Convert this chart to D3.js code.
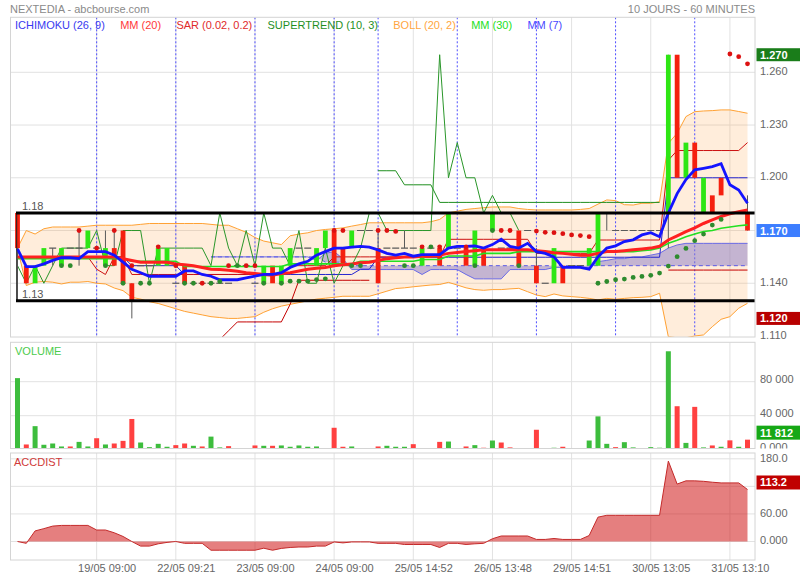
<!DOCTYPE html>
<html><head><meta charset="utf-8">
<script src="https://cdn.jsdelivr.net/npm/d3@7"></script>
<style>body{margin:0;background:#fff}svg{display:block}text{font-family:"Liberation Sans",Arial,sans-serif}</style>
</head><body><svg id="c" width="800" height="580"></svg>
<script>
// ---------------- DATA ----------------
const opens  = [1.18,1.15,1.14,1.15,1.16,1.15,1.16,1.16,1.16,1.16, 1.15,1.16,1.17,1.14,1.15,1.15,1.15,1.15,1.14,1.15, 1.14,1.14,1.14,1.14,1.14,1.15,1.15,1.14,1.14,1.15, 1.14,1.15,1.16,1.16,1.15,1.16,1.17,1.16,1.16,1.17, 1.17,1.16,1.16,1.16,1.16,1.16,1.15,1.16,1.16,1.16, 1.16,1.16,1.15,1.16,1.17,1.16,1.16,1.17,1.17,1.15, 1.14,1.14,1.15,1.15,1.15,1.15,1.15,1.18,1.17,1.17, 1.17,1.17,1.17,1.17,1.18,1.27,1.20,1.22,1.18,1.19, 1.20,1.18,1.18,1.18];
const highs  = [1.18,1.15,1.15,1.16,1.16,1.16,1.16,1.17,1.17,1.16, 1.17,1.17,1.17,1.14,1.15,1.15,1.16,1.16,1.14,1.15, 1.14,1.14,1.14,1.14,1.14,1.15,1.15,1.14,1.15,1.15, 1.15,1.16,1.16,1.16,1.16,1.17,1.17,1.16,1.17,1.17, 1.17,1.17,1.16,1.16,1.17,1.16,1.16,1.16,1.16,1.18, 1.16,1.16,1.17,1.16,1.18,1.16,1.16,1.17,1.17,1.16, 1.14,1.16,1.15,1.15,1.15,1.16,1.18,1.18,1.17,1.17, 1.17,1.17,1.17,1.17,1.27,1.27,1.22,1.22,1.20,1.19, 1.20,1.18,1.18,1.19];
const lows   = [1.13,1.14,1.14,1.15,1.15,1.15,1.16,1.15,1.16,1.16, 1.15,1.15,1.14,1.12,1.15,1.15,1.15,1.15,1.14,1.14, 1.14,1.14,1.14,1.14,1.14,1.15,1.15,1.14,1.14,1.14, 1.14,1.15,1.16,1.16,1.15,1.16,1.15,1.15,1.16,1.17, 1.17,1.14,1.16,1.16,1.16,1.16,1.15,1.16,1.15,1.16, 1.16,1.15,1.15,1.15,1.17,1.16,1.16,1.15,1.17,1.14, 1.14,1.14,1.14,1.15,1.15,1.15,1.15,1.17,1.17,1.17, 1.17,1.17,1.17,1.17,1.16,1.20,1.20,1.20,1.18,1.18, 1.19,1.18,1.18,1.17];
const closes = [1.16,1.14,1.15,1.16,1.16,1.16,1.16,1.16,1.17,1.16, 1.16,1.15,1.14,1.13,1.15,1.15,1.16,1.16,1.14,1.14, 1.14,1.14,1.14,1.14,1.14,1.15,1.15,1.14,1.15,1.14, 1.15,1.16,1.16,1.16,1.16,1.17,1.15,1.15,1.17,1.17, 1.17,1.14,1.16,1.16,1.16,1.16,1.16,1.16,1.15,1.18, 1.16,1.15,1.17,1.15,1.18,1.16,1.16,1.15,1.17,1.14, 1.14,1.16,1.14,1.15,1.15,1.16,1.18,1.18,1.17,1.17, 1.17,1.17,1.17,1.17,1.27,1.20,1.22,1.20,1.20,1.18, 1.19,1.18,1.18,1.17];

const volumes = [84200,6150,27700,5800,7300,3800,3800,9200,3800,13500, 6150,7300,10400,36150,8460,3000,6900,3450,5380,7300, 4600,3800,15400,2700,4200,1500,1500,5000,4600,4600, 5000,3450,5000,3450,3800,500,25800,3450,3800,0, 0,3800,4600,3450,3450,6500,1500,1500,9200,9600, 1500,3800,5380,2300,10800,8460,2700,1500,1500,23460, 0,2300,3450,1500,1500,10800,39200,6900,3000,8850, 2700,1500,3000,2300,115800,51150,8000,50400,2700,5000, 3450,11000,3450,11812];
const volumeDir = [1,-1,1,1,1,1,-1,1,1,-1, 1,-1,-1,-1,1,1,1,1,-1,-1, 1,-1,1,1,-1,0,0,-1,1,-1, 1,1,1,1,1,1,-1,-1,1,1, 1,-1,1,1,1,-1,0,0,-1,1, 0,-1,1,-1,1,-1,-1,0,0,-1, 1,1,-1,1,1,1,1,1,-1,1, 1,0,1,1,1,-1,1,-1,1,-1, 1,-1,1,-1];

const accdist = [0,-4,23,28,33.5,35,35,35,35,25, 25,19,11,0,-10,-10,-5,-2,0,-4, -4,-4,-19,-19,-19,-19,-19,-19,-14.6,-19, -15,-13,-12,-12,-10,-10,-1,-3,-1,-1, -1,-4,-4,-4,-6.5,-6.5,-6.5,-6.5,-13,-4, -4,-6.5,-5,-4,6,12,12,12,12,4.5, 4.5,6.5,4.5,4.5,4.5,13,53,57,57,57, 57,57,57,57,175,125,132,132,131,129, 127.5,127.5,127.5,113.2];

const mm7 = [1.1595,1.1495,1.1495,1.151,1.153,1.1545,1.1545,1.154,1.158,1.158, 1.158,1.156,1.152,1.148,1.146,1.144,1.144,1.144,1.144,1.147, 1.147,1.145,1.144,1.142,1.142,1.142,1.143,1.144,1.145,1.145, 1.146,1.149,1.151,1.1525,1.156,1.158,1.160,1.160,1.1605,1.161, 1.1605,1.159,1.157,1.156,1.157,1.1554,1.1563,1.1563,1.1563,1.160, 1.161,1.161,1.1612,1.160,1.162,1.165,1.161,1.160,1.1627,1.158, 1.157,1.155,1.149,1.149,1.149,1.148,1.155,1.160,1.1613,1.1637, 1.1647,1.1675,1.1688,1.1665,1.180,1.191,1.199,1.2045,1.2054,1.2064, 1.208,1.196,1.193,1.1855];
const mm20 = [1.155,1.155,1.155,1.155,1.155,1.155,1.155,1.155,1.155,1.155, 1.155,1.155,1.154,1.153,1.152,1.152,1.152,1.152,1.151,1.1505, 1.150,1.149,1.148,1.1478,1.1474,1.1468,1.146,1.1455,1.145,1.1446, 1.1455,1.146,1.147,1.148,1.1485,1.149,1.150,1.1505,1.151,1.1516, 1.152,1.153,1.154,1.1545,1.155,1.155,1.1553,1.1554,1.156,1.157, 1.1575,1.158,1.1585,1.159,1.159,1.159,1.159,1.159,1.159,1.1585, 1.158,1.1574,1.157,1.1565,1.156,1.156,1.157,1.158,1.158,1.1585, 1.159,1.1595,1.160,1.161,1.1646,1.167,1.1694,1.1715,1.174,1.176, 1.178,1.1795,1.1807,1.1817];
const mm30 = [1.154,1.154,1.154,1.154,1.154,1.154,1.154,1.154,1.154,1.154, 1.154,1.154,1.154,1.1525,1.1525,1.1525,1.1525,1.1525,1.1525,1.1495, 1.1495,1.1495,1.1495,1.1495,1.1495,1.1495,1.1495,1.1495,1.1495,1.1495, 1.1495,1.151,1.151,1.151,1.151,1.151,1.151,1.151,1.151,1.1525, 1.1525,1.1525,1.1525,1.1525,1.1525,1.1525,1.1535,1.1535,1.1535,1.1555, 1.1555,1.1555,1.1555,1.157,1.157,1.157,1.157,1.158,1.158,1.158, 1.158,1.158,1.158,1.158,1.158,1.158,1.158,1.158,1.158,1.158, 1.158,1.1585,1.159,1.160,1.1627,1.1645,1.1665,1.168,1.1694,1.170, 1.1713,1.172,1.1727,1.1732];
const bollUpper = [1.160,1.170,1.168,1.171,1.172,1.172,1.172,1.172,1.1725,1.173, 1.173,1.173,1.173,1.173,1.1735,1.174,1.174,1.174,1.174,1.174, 1.174,1.174,1.1735,1.173,1.173,1.171,1.169,1.166,1.164,1.163, 1.162,1.167,1.168,1.1687,1.170,1.1706,1.171,1.1715,1.1725,1.1734, 1.1744,1.1744,1.1744,1.1744,1.1744,1.1744,1.1744,1.175,1.1763,1.180, 1.181,1.182,1.1825,1.183,1.1834,1.1834,1.1834,1.1825,1.182,1.1817, 1.1817,1.1817,1.1817,1.1817,1.182,1.1825,1.185,1.1874,1.187,1.1847, 1.1845,1.1855,1.1855,1.1864,1.2196,1.2253,1.2348,1.2376,1.238,1.2382, 1.2386,1.2386,1.2377,1.2367];
const bollLower = [1.160,1.1387,1.1406,1.141,1.1406,1.1396,1.1406,1.1406,1.141,1.140, 1.1396,1.1373,1.1358,1.132,1.131,1.1295,1.1285,1.127,1.1255,1.124, 1.123,1.122,1.121,1.1205,1.120,1.120,1.1205,1.121,1.1235,1.1255, 1.127,1.128,1.129,1.130,1.131,1.1315,1.132,1.1326,1.1326,1.1326, 1.1326,1.134,1.1355,1.137,1.1374,1.138,1.1385,1.139,1.1393,1.1405, 1.139,1.1374,1.1364,1.136,1.1364,1.1364,1.1368,1.1371,1.1352,1.1333, 1.1324,1.1339,1.1328,1.1324,1.132,1.1314,1.1305,1.1314,1.1309,1.1314, 1.1318,1.132,1.1324,1.1343,1.1096,1.109,1.109,1.110,1.1106,1.1153, 1.1195,1.121,1.1258,1.1286];
const tenkan = [1.155,1.155,1.155,1.155,1.155,1.155,1.155,1.155,1.155,1.148, 1.145,1.155,1.155,1.145,1.145,1.145,1.145,1.145,1.145,1.145, 1.145,1.145,1.145,1.145,1.145,1.145,1.145,1.145,1.145,1.145, 1.145,1.150,1.150,1.150,1.150,1.150,1.155,1.155,1.155,1.155, 1.155,1.155,1.155,1.155,1.155,1.155,1.155,1.155,1.155,1.165, 1.165,1.165,1.165,1.165,1.165,1.165,1.165,1.165,1.165,1.157, 1.157,1.157,1.157,1.157,1.157,1.157,1.1646,1.1646,1.1646,1.1646, 1.1646,1.1646,1.1646,1.1646,1.210,1.2155,1.2155,1.2155,1.2155,1.2155, 1.2155,1.2155,1.2155,1.220];
const kijun = [1.155,1.155,1.155,1.155,1.155,1.155,1.155,1.155,1.155,1.155, 1.155,1.155,1.155,1.150,1.150,1.150,1.150,1.150,1.150,1.145, 1.145,1.145,1.145,1.145,1.145,1.145,1.145,1.145,1.145,1.145, 1.145,1.145,1.145,1.145,1.145,1.145,1.145,1.145,1.145,1.148, 1.148,1.1548,1.1548,1.1548,1.1548,1.1548,1.1548,1.1548,1.1548,1.1548, 1.1548,1.1548,1.1548,1.1548,1.1548,1.1548,1.1548,1.1548,1.1548,1.1548, 1.1548,1.1548,1.1548,1.1548,1.1548,1.1548,1.1548,1.1548,1.1548,1.1548, 1.1548,1.1548,1.1548,1.1548,1.200,1.200,1.200,1.200,1.200,1.200, 1.200,1.200,1.200,1.200];
const senkouA = [null,null,null,null,null,null,null,null,null,null, null,null,null,null,null,null,null,null,null,null, null,null,1.155,1.155,1.155,1.155,1.155,1.155,1.155,1.155, 1.155,1.155,1.155,1.155,1.153,1.157,1.158,1.154,1.1478,1.1478, 1.1478,1.1478,1.1478,1.1478,1.1478,1.1478,1.145,1.1478,1.1478,1.1478, 1.1478,1.145,1.1425,1.1425,1.1425,1.1425,1.1478,1.1478,1.1478,1.1478, 1.1478,1.149,1.149,1.149,1.149,1.149,1.1523,1.153,1.154,1.154, 1.155,1.155,1.156,1.157,1.160,1.1618,1.1627,1.1627,1.1627,1.1627, 1.1627,1.1627,1.1627,1.1627];
const senkouB = [null,null,null,null,null,null,null,null,null,null, null,null,null,null,null,null,null,null,null,null, null,null,1.155,1.155,1.155,1.155,1.155,1.155,1.155,1.155, 1.155,1.155,1.155,1.155,1.155,1.152,1.152,1.152,1.150,1.150, 1.150,1.150,1.150,1.150,1.150,1.150,1.150,1.150,1.150,1.150, 1.150,1.150,1.150,1.150,1.150,1.150,1.150,1.150,1.150,1.150, 1.150,1.150,1.150,1.150,1.150,1.150,1.150,1.150,1.150,1.150, 1.150,1.150,1.150,1.150,1.150,1.150,1.150,1.150,1.150,1.150, 1.150,1.150,1.150,1.150];
const chikou = [1.15,1.14,1.15,1.14,1.15,1.16,1.16,1.16,1.16,1.17, 1.15,1.15,1.17,1.17,1.17,1.14,1.16,1.16,1.16,1.16, 1.16,1.16,1.15,1.18,1.16,1.15,1.17,1.15,1.18,1.16, 1.16,1.15,1.17,1.14,1.14,1.16,1.14,1.15,1.15,1.16, 1.18,1.18,1.17,1.17,1.17,1.17,1.17,1.17,1.27,1.20, 1.22,1.20,1.20,1.18,1.19,1.18,1.18,1.17];
const supertrendUp = [null,null,null,null,null,null,null,null,null,null, null,null,null,null,null,null,null,null,null,null, null,null,null,1.108,1.113,1.118,1.118,1.118,1.118,1.118, 1.118,1.128,1.1417,1.1417,1.1417,1.1417,1.1417,1.1417,1.1417,1.1417, 1.1417,null,null,null,null,null,null,null,null,null, null,null,null,null,null,null,null,null,null,null, null,null,null,null,null,null,null,null,null,null, null,null,null,null,1.1475,1.1475,1.1475,1.1475,1.1475,1.1475, 1.1475,1.1475,1.1475,1.1475];
const supertrendDown = [null,null,null,null,null,null,null,null,null,null, null,null,null,null,null,null,null,null,null,null, null,null,null,null,null,null,null,null,null,null, null,null,null,null,null,null,null,null,null,null, null,1.204,1.204,1.204,1.196,1.196,1.196,1.196,1.186,1.186, 1.186,1.186,1.186,1.186,1.186,1.186,1.186,1.186,1.186,1.186, 1.186,1.186,1.186,1.186,1.186,1.186,1.186,1.186,1.186,1.186, 1.186,1.186,1.186,1.186,null,null,null,null,null,null, null,null,null,null];
const sar = [null,null,null,null,null,1.15,1.15,1.17,null,1.16, 1.15,1.17,1.14,1.15,1.14,1.14,1.1607,null,1.15,1.14, 1.14,1.14,1.14,1.141,1.15,1.15,1.15,1.15,1.14,null, 1.14,1.1412,1.1412,1.1412,1.1421,1.1425,1.17,1.17,1.15,1.15, null,1.17,1.17,1.1695,1.15,1.15,1.1607,1.1607,1.1607,null, null,1.1607,1.15,null,1.17,1.17,1.17,1.15,null,1.1697, 1.169,1.1688,1.1682,1.1675,1.1671,1.1665,1.140,1.141,1.142,1.1424, 1.1433,1.1439,1.1445,1.1458,1.1498,1.1551,1.1598,1.1642,1.168,1.1731, 1.1763,1.2704,1.2689,1.2648];
const sarDir = [0,0,0,0,0,1,1,-1,0,-1, 1,-1,1,-1,1,1,-1,0,-1,1, 1,-1,1,1,-1,1,-1,-1,1,0, 1,1,1,1,1,1,-1,-1,1,1, 0,-1,-1,-1,1,1,-1,1,-1,0, 0,-1,1,0,1,-1,-1,1,0,-1, -1,-1,-1,-1,-1,-1,1,1,1,1, 1,1,1,1,1,1,1,1,1,1, 1,-1,-1,-1];

const levelLines = [1.18, 1.13];
const priceTicks = [1.11,1.14,1.17,1.20,1.23,1.26];
const volumeTicks = [0,40000,80000];
const accTicks = [0,60,120,180];
const xTickIndex = [9,18,27,36,45,54,63,72,81];
const xTickLabels = ["19/05 09:00","22/05 09:21","23/05 09:00","24/05 09:00","25/05 14:52","26/05 13:48","29/05 14:51","30/05 13:05","31/05 13:10"];
const dayStartIndex = [9,18,27,36,41,50,59,68,77];
const legendNames = ["ICHIMOKU (26, 9)","MM (20)","SAR (0.02, 0.2)","SUPERTREND (10, 3)","BOLL (20, 2)","MM (30)","MM (7)"];
const legendColors = ["#3a3af0","#ff3a3a","#e02a2a","#1f8f1f","#ffa640","#22e022","#4848ff"];

// ---------------- LAYOUT ----------------
const L = 10, R = 755;
const mainTop = 17.3, mainBot = 337;
const volTop = 342.3, volBot = 448.5;
const accTop = 453, accBot = 560;
const N = closes.length;
const idx = d3.range(N);

const svg = d3.select("#c");
const x = d3.scaleLinear().domain([0, N - 1]).range([17.5, 747.5]);
const y = d3.scaleLinear().domain([1.11, 1.26]).range([336, 72.3]);
const yv = d3.scaleLinear().domain([0, 80000]).range([449.7, 381.7]);
const ya = d3.scaleLinear().domain([0, 180]).range([541.5, 458.8]);

const GRID = "#e2e2e2", BORDER = "#d4d4d4", LABEL = "#666";

// clip paths (cvl is used inside a group translated by R, so it is in local coords)
const defs = svg.append("defs");
[["cm", L, mainTop, R - L, mainBot - mainTop], ["cv", L, volTop, R - L, volBot - volTop],
 ["ca", L, accTop, R - L, accBot - accTop], ["cvl", 0, volTop, 800 - R, volBot - volTop]].forEach(([id, xx, t, w, h]) => {
  defs.append("clipPath").attr("id", id).append("rect").attr("x", xx).attr("y", t).attr("width", w).attr("height", h);
});

// title
svg.append("text").attr("x", 10).attr("y", 13).attr("font-size", 11).attr("fill", "#8a8a8a").text("NEXTEDIA - abcbourse.com");
svg.append("text").attr("x", R).attr("y", 13).attr("text-anchor", "end").attr("font-size", 11).attr("fill", "#8a8a8a").text("10 JOURS - 60 MINUTES");

// ---------- panel grids ----------
function vgrid(t, b) {
  svg.append("g").selectAll("line").data(xTickIndex).join("line")
    .attr("x1", d => x(d)).attr("x2", d => x(d)).attr("y1", t).attr("y2", b)
    .attr("stroke", GRID).attr("stroke-width", 1);
}
function hgrid(scale, ticks, t, b) {
  svg.append("g").selectAll("line").data(ticks.filter(v => scale(v) > t + 1 && scale(v) < b - 1)).join("line")
    .attr("x1", L).attr("x2", R).attr("y1", d => scale(d)).attr("y2", d => scale(d))
    .attr("stroke", GRID).attr("stroke-width", 1);
}
vgrid(mainTop, mainBot); hgrid(y, priceTicks, mainTop, mainBot);
vgrid(volTop, volBot); hgrid(yv, volumeTicks, volTop, volBot);
vgrid(accTop, accBot); hgrid(ya, accTicks, accTop, accBot);

// ---------- MAIN PANEL ----------
const gm = svg.append("g").attr("clip-path", "url(#cm)");

// Bollinger fill
gm.append("path").datum(idx)
  .attr("d", d3.area().x(i => x(i)).y0(i => y(bollLower[i])).y1(i => y(bollUpper[i])))
  .attr("fill", "#ffa64d").attr("fill-opacity", 0.2);

// day separators
gm.append("g").selectAll("line").data(dayStartIndex).join("line")
  .attr("x1", d => x(d)).attr("x2", d => x(d)).attr("y1", mainTop).attr("y2", mainBot)
  .attr("stroke", "#4d4dff").attr("stroke-width", 1).attr("stroke-dasharray", "2,2");

// Bollinger lines
[bollUpper, bollLower].forEach(arr => {
  gm.append("path").datum(idx).attr("d", d3.line().x(i => x(i)).y(i => y(arr[i])))
    .attr("fill", "none").attr("stroke", "#ffa133").attr("stroke-width", 1);
});

// Ichimoku cloud
const cloudIdx = idx.filter(i => senkouA[i] != null);
gm.append("path").datum(cloudIdx)
  .attr("d", d3.area().x(i => x(i)).y0(i => y(senkouB[i])).y1(i => y(senkouA[i])))
  .attr("fill", "#8a7cc8").attr("fill-opacity", 0.5);
gm.append("path").datum(cloudIdx).attr("d", d3.line().x(i => x(i)).y(i => y(senkouA[i])))
  .attr("fill", "none").attr("stroke", "#6a6ae6").attr("stroke-width", 1);
gm.append("path").datum(cloudIdx).attr("d", d3.line().x(i => x(i)).y(i => y(senkouB[i])))
  .attr("fill", "none").attr("stroke", "#5a5ae6").attr("stroke-width", 1).attr("stroke-dasharray", "4,3");

function stepLine(arr, color, w) {
  gm.append("path").datum(idx)
    .attr("d", d3.line().defined(i => arr[i] != null).x(i => x(i)).y(i => y(arr[i])))
    .attr("fill", "none").attr("stroke", color).attr("stroke-width", w);
}
stepLine(kijun, "#2424d0", 1);
stepLine(tenkan, "#cc1111", 1);
stepLine(supertrendUp, "#c40000", 1);
stepLine(supertrendDown, "#1f8f1f", 1);
gm.append("path").datum(d3.range(chikou.length))
  .attr("d", d3.line().x(i => x(i)).y(i => y(chikou[i])))
  .attr("fill", "none").attr("stroke", "#2a962a").attr("stroke-width", 1);

// candles
const bw = 4.8;
const cg = gm.append("g");
idx.forEach(i => {
  const o = opens[i], c = closes[i], h = highs[i], l = lows[i];
  const cx = x(i);
  if (h > Math.max(o, c) || l < Math.min(o, c)) {
    cg.append("line").attr("x1", cx).attr("x2", cx).attr("y1", y(h)).attr("y2", y(l))
      .attr("stroke", "#5a5a5a").attr("stroke-width", 1);
  }
  if (o === c) {
    cg.append("line").attr("x1", cx - 3.5).attr("x2", cx + 3.5).attr("y1", y(c)).attr("y2", y(c))
      .attr("stroke", "#5a5a5a").attr("stroke-width", 1.2);
  } else {
    cg.append("rect").attr("x", cx - bw / 2).attr("width", bw)
      .attr("y", y(Math.max(o, c))).attr("height", Math.abs(y(o) - y(c)))
      .attr("fill", c > o ? "#2ee614" : "#f5200f");
  }
});

// moving averages
stepLine(mm30, "#22e022", 1.6);
stepLine(mm20, "#ff2020", 3);
stepLine(mm7, "#1414ff", 2.8);

// SAR
gm.append("g").selectAll("circle").data(idx.filter(i => sar[i] != null)).join("circle")
  .attr("cx", i => x(i)).attr("cy", i => y(sar[i])).attr("r", 2.4)
  .attr("fill", i => sarDir[i] > 0 ? "#2e8b2e" : "#dd1111");

// level bracket
gm.append("line").attr("x1", 16.7).attr("x2", 16.7).attr("y1", y(levelLines[0])).attr("y2", y(levelLines[1]))
  .attr("stroke", "#222").attr("stroke-width", 1);
levelLines.forEach(v => {
  gm.append("line").attr("x1", 16).attr("x2", R).attr("y1", y(v)).attr("y2", y(v))
    .attr("stroke", "#000").attr("stroke-width", 3);
  gm.append("text").attr("x", 22).attr("y", y(v) - 2.5).attr("font-size", 11).attr("fill", "#555")
    .text(d3.format(".2f")(v));
});

// legend
let lx = 15;
legendNames.forEach((n, k) => {
  const t = svg.append("text").attr("x", lx).attr("y", 29).attr("font-size", 11).attr("fill", legendColors[k]).text(n);
  lx += t.node().getComputedTextLength() + 15.3;
});

// ---------- VOLUME ----------
const gv = svg.append("g").attr("clip-path", "url(#cv)");
gv.selectAll("rect").data(idx).join("rect")
  .attr("x", i => x(i) - 2.5).attr("width", 5)
  .attr("y", i => yv(volumes[i])).attr("height", i => yv(0) - yv(volumes[i]))
  .attr("fill", i => volumeDir[i] > 0 ? "#3dbd3d" : volumeDir[i] < 0 ? "#ff4141" : "#cfe4cf");
svg.append("text").attr("x", 15).attr("y", 355).attr("font-size", 11).attr("fill", "#4ccc4c").text("VOLUME");

// ---------- ACCDIST ----------
const ga = svg.append("g").attr("clip-path", "url(#ca)");
ga.append("path").datum(idx).attr("d", d3.area().x(i => x(i)).y0(ya(0)).y1(i => ya(accdist[i])))
  .attr("fill", "#cc0000").attr("fill-opacity", 0.5);
ga.append("path").datum(idx).attr("d", d3.line().x(i => x(i)).y(i => ya(accdist[i])))
  .attr("fill", "none").attr("stroke", "#c42a2a").attr("stroke-width", 1);
svg.append("text").attr("x", 14).attr("y", 466).attr("font-size", 11).attr("fill", "#d03a3a").text("ACCDIST");

// ---------- panel borders ----------
[[mainTop, mainBot], [volTop, volBot], [accTop, accBot]].forEach(([t, b]) => {
  svg.append("rect").attr("x", L + 0.5).attr("y", t).attr("width", R - L - 0.5).attr("height", b - t)
    .attr("fill", "none").attr("stroke", BORDER).attr("stroke-width", 1);
});

// ---------- axes ----------
function rightAxis(scale, ticks, fmt, clip, dy) {
  const g = svg.append("g").attr("transform", `translate(${R},0)`)
    .call(d3.axisRight(scale).tickValues(ticks).tickFormat(fmt).tickSize(0).tickPadding(5));
  if (clip) g.attr("clip-path", clip);
  g.select(".domain").remove();
  g.selectAll("text").attr("fill", LABEL).attr("font-size", 11).attr("font-family", '"Liberation Sans",Arial,sans-serif').attr("dy", dy || "0.2em");
  return g;
}
rightAxis(y, priceTicks, d3.format(".3f"));
rightAxis(yv, volumeTicks, v => v === 0 ? "0.000" : d3.format(",")(v).replace(/,/g, " "), "url(#cvl)", "0.05em");
// the 120 label sits under the last-value badge in the reference
rightAxis(ya, accTicks, v => v === 120 ? "" : d3.format(".4r")(v));

const xa = svg.append("g").attr("transform", `translate(10,${accBot})`)
  .call(d3.axisBottom(x).tickValues(xTickIndex).tickFormat((d, k) => xTickLabels[k]).tickSize(0).tickPadding(4));
xa.select(".domain").remove();
xa.selectAll("text").attr("fill", LABEL).attr("font-size", 11).attr("font-family", '"Liberation Sans",Arial,sans-serif');

// ---------- badges ----------
function badge(yc, txt, bg, h) {
  const g = svg.append("g");
  g.append("rect").attr("x", 756.5).attr("y", yc - h / 2).attr("width", 44).attr("height", h).attr("fill", bg);
  g.append("text").attr("x", 760).attr("y", yc + 4).attr("font-size", 11).attr("font-weight", "bold")
    .attr("fill", "#fff").text(txt);
}
const hiP = d3.max(highs), loP = d3.min(lows), lastC = closes[N - 1];
badge(y(hiP), d3.format(".3f")(hiP), "#1a7d1a", 13);
badge(y(lastC), d3.format(".3f")(lastC), "#3d7eff", 13);
badge(y(loP), d3.format(".3f")(loP), "#b80000", 13);
const lastV = volumes[N - 1];
badge(Math.min(yv(lastV), volBot - 8) - 7, d3.format(",")(lastV).replace(/,/g, " "), "#16a816", 14);
const lastA = accdist[N - 1];
badge(ya(lastA) - 7, d3.format(".1f")(lastA), "#c00000", 14);
</script></body></html>
